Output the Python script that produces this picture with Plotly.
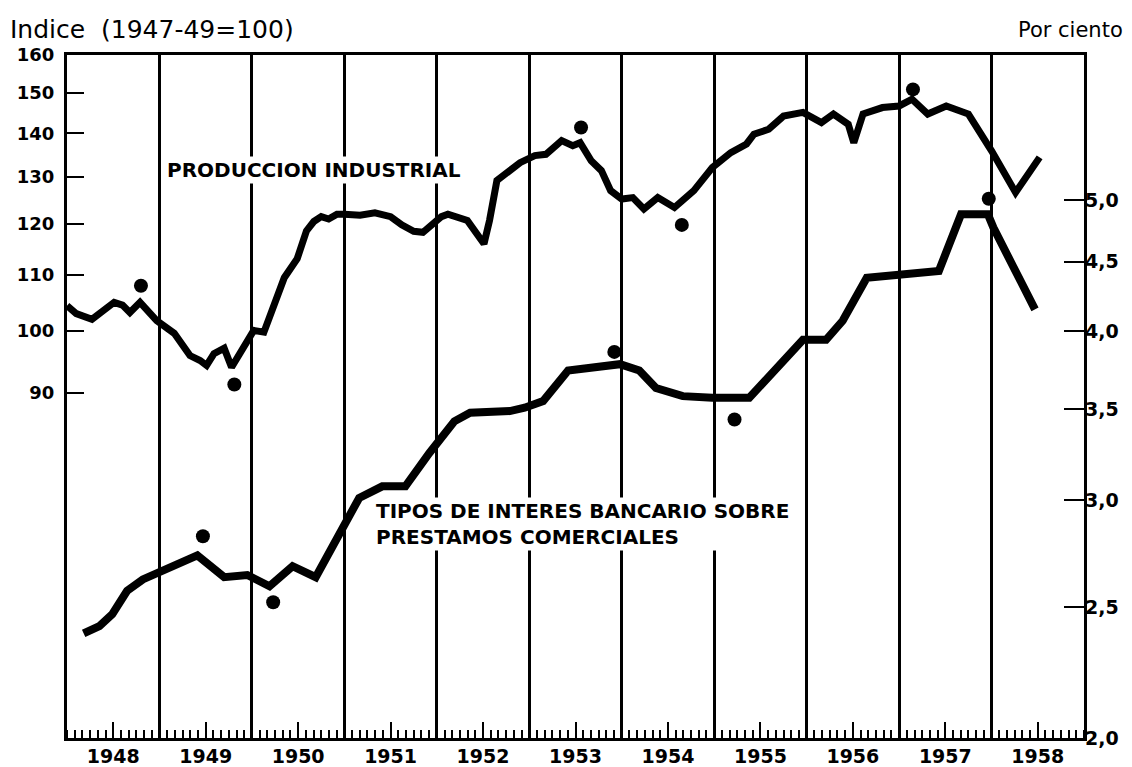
import math
import plotly.graph_objects as go

# ---------------- data ----------------
year_starts = list(range(1948, 1960))
year_mid = [y + 0.5 for y in range(1948, 1959)]
year_labels = [str(y) for y in range(1948, 1959)]

left_ticks = [90, 100, 110, 120, 130, 140, 150, 160]
left_tick_labels = ["90", "100", "110", "120", "130", "140", "150", "160"]
right_ticks = [2.0, 2.5, 3.0, 3.5, 4.0, 4.5, 5.0]
right_tick_labels = ["2,0", "2,5", "3,0", "3,5", "4,0", "4,5", "5,0"]

# Industrial production index (1947-49 = 100)
prod_t = [1948.00, 1948.10, 1948.27, 1948.36, 1948.51, 1948.60, 1948.68, 1948.79, 1948.97,
          1949.16, 1949.33, 1949.44, 1949.51, 1949.59, 1949.70, 1949.78, 1949.91,
          1950.02, 1950.13, 1950.24, 1950.35, 1950.49, 1950.59, 1950.67, 1950.75, 1950.83, 1950.92,
          1951.00, 1951.17, 1951.33, 1951.50, 1951.62, 1951.75, 1951.85, 1951.95,
          1952.05, 1952.12, 1952.33, 1952.51, 1952.57, 1952.65, 1952.90,
          1953.06, 1953.18, 1953.35, 1953.47, 1953.55, 1953.67, 1953.78, 1953.88,
          1954.00, 1954.12, 1954.24, 1954.39, 1954.57, 1954.78, 1954.98,
          1955.18, 1955.35, 1955.43, 1955.59, 1955.75, 1955.96,
          1956.16, 1956.29, 1956.45, 1956.51, 1956.61, 1956.82,
          1957.00, 1957.14, 1957.31, 1957.51, 1957.75,
          1958.00, 1958.26, 1958.52]
prod_v = [104.4, 103.0, 102.0, 103.0, 105.0, 104.5, 103.2, 105.0, 101.8,
          99.6, 95.9, 95.1, 94.3, 96.2, 97.1, 94.0, 97.2,
          100.1, 99.8, 104.8, 109.5, 113.1, 118.6, 120.5, 121.5, 121.0, 122.0,
          122.0, 121.8, 122.3, 121.5, 119.8, 118.5, 118.3, 120.0,
          121.5, 122.0, 120.7, 116.0, 120.7, 129.2, 133.2,
          134.8, 135.1, 138.3, 137.1, 137.8, 133.6, 131.4, 127.0,
          125.2, 125.5, 123.1, 125.5, 123.4, 127.0, 132.1,
          135.5, 137.5, 139.8, 141.0, 144.2, 145.1,
          142.6, 144.7, 142.2, 137.8, 144.7, 146.3,
          146.7, 148.4, 144.7, 146.7, 144.7,
          135.9, 126.6, 134.4]

# Bank rates on business loans (per cent)
rate_t = [1948.18, 1948.35, 1948.49, 1948.65, 1948.82, 1949.03, 1949.21, 1949.41,
          1949.70, 1949.95, 1950.19, 1950.44, 1950.69, 1950.98, 1951.16, 1951.41,
          1951.66, 1951.92, 1952.19, 1952.36, 1952.79, 1952.95, 1953.15, 1953.42,
          1953.98, 1954.19, 1954.37, 1954.66, 1954.98, 1955.38, 1955.66, 1955.96,
          1956.21, 1956.39, 1956.65, 1957.43, 1957.67, 1957.96, 1958.02, 1958.47]
rate_v = [2.39, 2.42, 2.47, 2.57, 2.62, 2.66, 2.70, 2.73,
          2.63, 2.64, 2.59, 2.68, 2.63, 2.85, 3.01, 3.07,
          3.07, 3.25, 3.43, 3.48, 3.49, 3.51, 3.55, 3.74,
          3.78, 3.74, 3.63, 3.58, 3.57, 3.57, 3.74, 3.94,
          3.94, 4.07, 4.38, 4.43, 4.88, 4.88, 4.77, 4.15]

# Turning-point dots
prod_turn_t = [1948.80, 1949.81, 1953.56, 1954.65, 1957.15]
prod_turn_v = [108.0, 91.3, 141.4, 119.8, 150.9]
rate_turn_t = [1949.47, 1950.23, 1953.92, 1955.22, 1957.97]
rate_turn_v = [2.82, 2.52, 3.86, 3.44, 5.01]

# ---------------- figure ----------------
INK = "#000000"
FONT = "DejaVu Sans"

fig = go.Figure()
fig.add_trace(go.Scatter(x=prod_t, y=prod_v, mode="lines",
                         line=dict(color=INK, width=7), xaxis="x", yaxis="y",
                         showlegend=False, hoverinfo="skip"))
fig.add_trace(go.Scatter(x=prod_turn_t, y=prod_turn_v, mode="markers",
                         marker=dict(color=INK, size=14), xaxis="x", yaxis="y",
                         showlegend=False, hoverinfo="skip"))
fig.add_trace(go.Scatter(x=rate_t, y=rate_v, mode="lines",
                         line=dict(color=INK, width=8), xaxis="x2", yaxis="y2",
                         showlegend=False, hoverinfo="skip"))
fig.add_trace(go.Scatter(x=rate_turn_t, y=rate_turn_v, mode="markers",
                         marker=dict(color=INK, size=14), xaxis="x2", yaxis="y2",
                         showlegend=False, hoverinfo="skip"))

xr = [year_starts[0], year_starts[-1]]
tickfont = dict(family=FONT, size=19, color=INK, weight="bold")

fig.update_layout(
    width=1132, height=767,
    margin=dict(l=67, r=48, t=55, b=29, autoexpand=False),
    paper_bgcolor="white", plot_bgcolor="white",
    xaxis=dict(range=xr, tickvals=year_starts, showticklabels=False, ticks="",
               showgrid=True, gridcolor=INK, gridwidth=2.5, zeroline=False,
               showline=True, linecolor=INK, linewidth=3, mirror=True,
               automargin=False,
               minor=dict(ticks="inside", ticklen=8, tickwidth=1.5, tickcolor=INK,
                          tick0=1948, dtick=1/12, showgrid=False)),
    xaxis2=dict(range=xr, overlaying="x", anchor="y2", side="bottom",
                tickvals=year_mid, ticktext=year_labels, ticks="inside",
                ticklen=16, tickwidth=2, tickcolor=INK, showgrid=False,
                zeroline=False, showline=False, tickfont=tickfont,
                ticklabelstandoff=5, automargin=False),
    yaxis=dict(type="log", range=[math.log10(50), math.log10(160)],
               tickvals=left_ticks, ticktext=left_tick_labels, ticks="inside",
               ticklen=17, tickwidth=2, tickcolor=INK, showgrid=False, zeroline=False,
               showline=True, linecolor=INK, linewidth=3, mirror=True,
               ticklabelstandoff=6, automargin=False,
               tickfont=dict(family=FONT, size=18, color=INK, weight="bold")),
    yaxis2=dict(type="log", range=[math.log10(2.0), math.log10(6.4)],
                overlaying="y", side="right", anchor="x2",
                tickvals=right_ticks, ticktext=right_tick_labels, ticks="inside",
                ticklen=20, tickwidth=2, tickcolor=INK, showgrid=False, zeroline=False,
                showline=False, tickfont=tickfont, automargin=False),
)

ann_font = dict(family=FONT, size=20, color=INK, weight="bold")
fig.add_annotation(xref="paper", yref="paper", x=-0.058, y=1.037,
                   xanchor="left", yanchor="middle", showarrow=False,
                   text="Indice  (1947-49=100)",
                   font=dict(family=FONT, size=25, color=INK))
fig.add_annotation(xref="paper", yref="paper", x=1.040, y=1.037,
                   xanchor="right", yanchor="middle", showarrow=False,
                   text="Por ciento",
                   font=dict(family=FONT, size=21, color=INK))
fig.add_annotation(xref="paper", yref="paper", x=0.096, y=0.832,
                   xanchor="left", yanchor="middle", showarrow=False,
                   text="PRODUCCION INDUSTRIAL", bgcolor="white",
                   font=ann_font)
fig.add_annotation(xref="paper", yref="paper", x=0.302, y=0.313,
                   xanchor="left", yanchor="middle", showarrow=False, align="left",
                   text="TIPOS DE INTERES BANCARIO SOBRE<br>PRESTAMOS COMERCIALES",
                   bgcolor="white", font=ann_font)

fig.write_html("out.html", config={"displayModeBar": False},
               post_script="document.body.style.margin='0px';")
